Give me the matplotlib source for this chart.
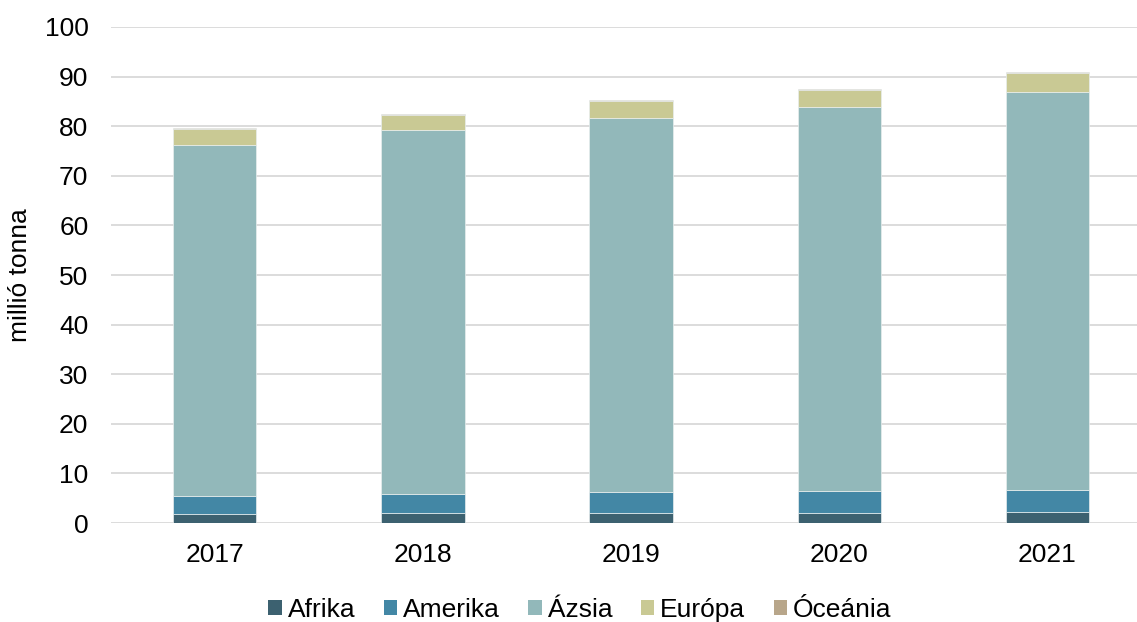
# Stacked bar chart of production by continent, 2017-2021
import matplotlib
matplotlib.use("Agg")
import matplotlib.pyplot as plt
from matplotlib.patches import Patch
import numpy as np

plt.rcParams['font.family'] = ['Liberation Sans', 'DejaVu Sans']

# data (million tonnes)
years = ["2017", "2018", "2019", "2020", "2021"]
afrika = [1.9, 2.1, 2.1, 2.1, 2.2]
amerika = [3.55, 3.84, 4.16, 4.36, 4.45]
azsia = [70.85, 73.26, 75.44, 77.44, 80.33]
europa = [3.1, 3.1, 3.3, 3.4, 3.7]
oceania = [0.2, 0.2, 0.2, 0.2, 0.2]

series = [("Afrika", afrika, "#3C6170"),
          ("Amerika", amerika, "#4387A5"),
          ("Ázsia", azsia, "#92B8BA"),
          ("Európa", europa, "#C9C994"),
          ("Óceánia", oceania, "#B8A68A")]

fig = plt.figure(figsize=(11.37, 6.22), dpi=100)
ax = fig.add_axes([0.0973, 0.159, 0.9154, 0.7976])

x = np.arange(len(years))
bottom = np.zeros(len(years))
for name, vals, col in series:
    ax.bar(x, vals, 0.4, bottom=bottom, color=col, edgecolor="#E8EEEE",
           linewidth=0.5, zorder=3)
    bottom += np.array(vals)

ax.set_xlim(-0.5, 4.5)
ax.set_ylim(0, 100)
ax.set_yticks(range(0, 101, 10))
ax.set_xticks(x)
ax.set_xticklabels(years)
ax.tick_params(axis="both", length=0, labelsize=19, colors="black")
ax.tick_params(axis="x", pad=14)
ax.tick_params(axis="y", pad=16)
ax.grid(axis="y", color="#D9D9D9", linewidth=1.3, zorder=0)
for s in ax.spines.values():
    s.set_visible(False)
ax.set_ylabel("millió tonna", fontsize=19)
ax.yaxis.set_label_coords(-0.0755, 0.5)

handles = [Patch(facecolor=col, edgecolor="none") for _, _, col in series]
labels = [name for name, _, _ in series]
fig.legend(handles, labels, loc="center", bbox_to_anchor=(0.51, 0.02),
           ncol=5, frameon=False, fontsize=19, handlelength=0.52,
           handleheight=0.52, handletextpad=0.22, columnspacing=1.07)

fig.savefig("out.png", dpi=100)
